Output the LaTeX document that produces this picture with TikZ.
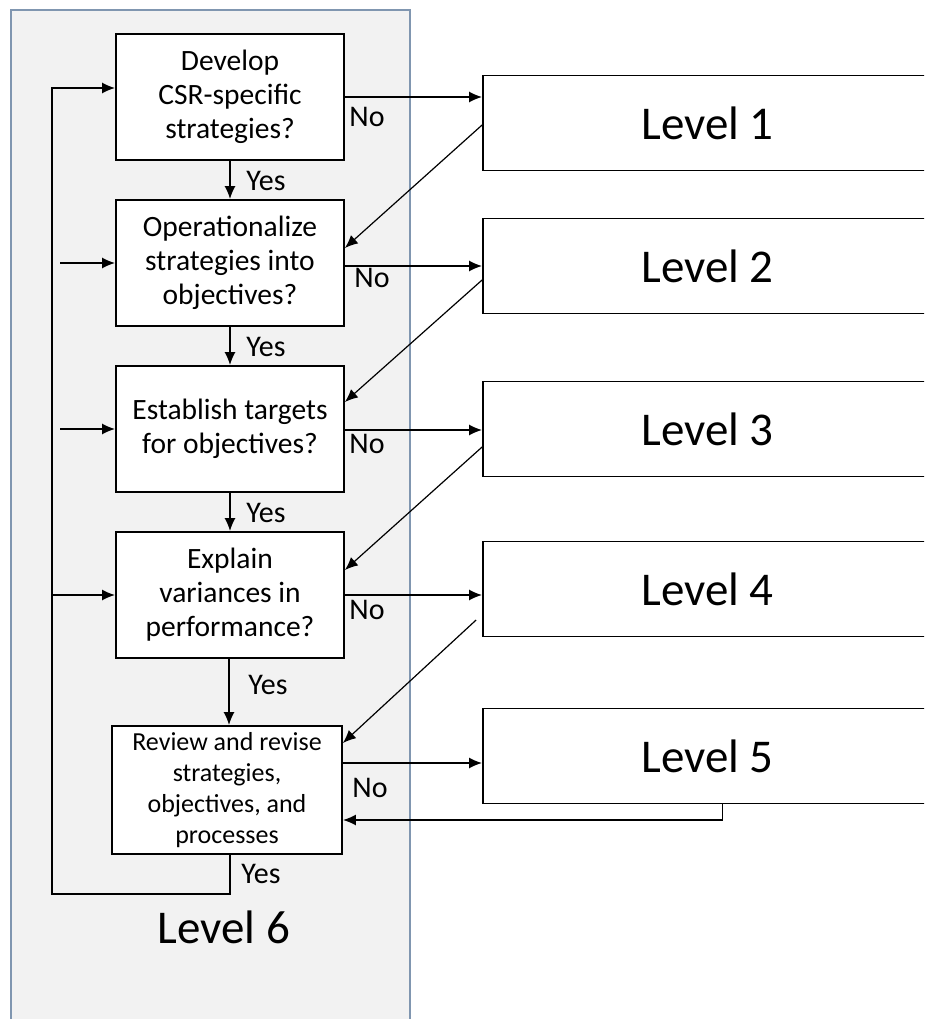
\documentclass[tikz,border=0pt]{standalone}
\usepackage{fontspec}
\setmainfont{Carlito}
\usetikzlibrary{arrows.meta}
\definecolor{panelfill}{RGB}{242,242,242}
\definecolor{paneledge}{RGB}{128,150,176}
\tikzset{
  qbox/.style={draw=black, line width=1.8pt, fill=white, minimum width=228pt, minimum height=126pt, align=center, inner sep=0pt, font=\fontsize{29.5}{34}\selectfont},
  lvlbox/.style={draw=black, line width=1.8pt, fill=white, minimum width=449pt, minimum height=95pt, inner sep=0pt, font=\fontsize{47}{55}\selectfont},
  arr/.style={line width=1.6pt, -{Latex[length=13pt,width=11pt]}},
  back/.style={line width=1.2pt, -{Latex[length=13pt,width=11pt]}},
  lbl/.style={font=\fontsize{30}{34}\selectfont, inner sep=0pt},
}
\begin{document}
\begin{tikzpicture}[x=1pt,y=-1pt]
	%%%%% PANEL %%%%%
	\useasboundingbox (0,0) rectangle (924,1019);
	\clip (0,0) rectangle (924,1019);
	\draw[fill=panelfill, draw=paneledge, line width=1.2pt] (11,10) rectangle (410,1040);
	
	%%%%% QUESTIONS %%%%%
	\node[qbox] (b1) at (230,97) {Develop\\CSR-specific\\strategies?};
	\node[qbox] (b2) at (230,263) {Operationalize\\strategies into\\objectives?};
	\node[qbox] (b3) at (230,429) {Establish targets\\for objectives?};
	\node[qbox] (b4) at (230,595) {Explain\\variances in\\performance?};
	\node[qbox, minimum width=230pt, minimum height=128pt, font=\fontsize{26}{31}\selectfont] (b5) at (227,790) {Review and revise\\strategies,\\objectives, and\\processes};
	
	%%%%% LEVELS %%%%%
	\node[lvlbox] (l1) at (707.5,123) {Level 1};
	\node[lvlbox] (l2) at (707.5,266) {Level 2};
	\node[lvlbox] (l3) at (707.5,429) {Level 3};
	\node[lvlbox] (l4) at (707.5,589) {Level 4};
	\node[lvlbox] (l5) at (707.5,756) {Level 5};
	\node[font=\fontsize{47}{55}\selectfont] (l6) at (224,927) {Level 6};
	
	%%%%% YES %%%%%
	\draw[arr] (b1.south) -- (b2.north);
	\draw[arr] (b2.south) -- (b3.north);
	\draw[arr] (b3.south) -- (b4.north);
	\draw[arr] ([xshift=-1pt]b4.south) -- ([xshift=-1pt]b4.south |- b5.north);
	\node[lbl] (y1) at (266,181) {Yes};
	\node[lbl] (y2) at (266,347) {Yes};
	\node[lbl] (y3) at (266,513) {Yes};
	\node[lbl] (y4) at (268,685) {Yes};
	\node[lbl] (y5) at (261,874) {Yes};
	
	%%%%% NO %%%%%
	\draw[arr] (b1.east) -- (b1.east -| l1.west);
	\draw[arr] ([yshift=-3pt]b2.east) -- ([yshift=-3pt]b2.east -| l2.west);
	\draw[arr] ([yshift=-1pt]b3.east) -- ([yshift=-1pt]b3.east -| l3.west);
	\draw[arr] (b4.east) -- (b4.east -| l4.west);
	\draw[arr] ([yshift=27pt]b5.east) -- ([yshift=27pt]b5.east -| l5.west);
	\node[lbl] (n1) at (367,117) {No};
	\node[lbl] (n2) at (372,278) {No};
	\node[lbl] (n3) at (367,444) {No};
	\node[lbl] (n4) at (367,610) {No};
	\node[lbl] (n5) at (370,788) {No};
	
	%%%%% BACK %%%%%
	\draw[back] ([yshift=-2pt]l1.west) -- ([yshift=15pt]b2.east);
	\draw[back] ([yshift=-14pt]l2.west) -- ([yshift=27pt]b3.east);
	\draw[back] ([yshift=-18pt]l3.west) -- ([yshift=25pt]b4.east);
	\draw[back] ([xshift=-6pt,yshift=-31pt]l4.west) -- ([yshift=47pt]b5.east);
	\draw[arr] ([xshift=15pt]l5.south) |- ([yshift=-30pt]b5.east);
	
	%%%%% LOOP %%%%%
	\coordinate (loopL) at (52,894);
	\coordinate (gap) at (60,0);
	\draw[arr] ([xshift=3pt]b5.south) |- (loopL) |- ([yshift=9pt]b1.west);
	\draw[arr] (b2.west -| gap) -- (b2.west);
	\draw[arr] (b3.west -| gap) -- (b3.west);
	\draw[arr] (b4.west -| loopL) -- (b4.west);
\end{tikzpicture}
\end{document}
